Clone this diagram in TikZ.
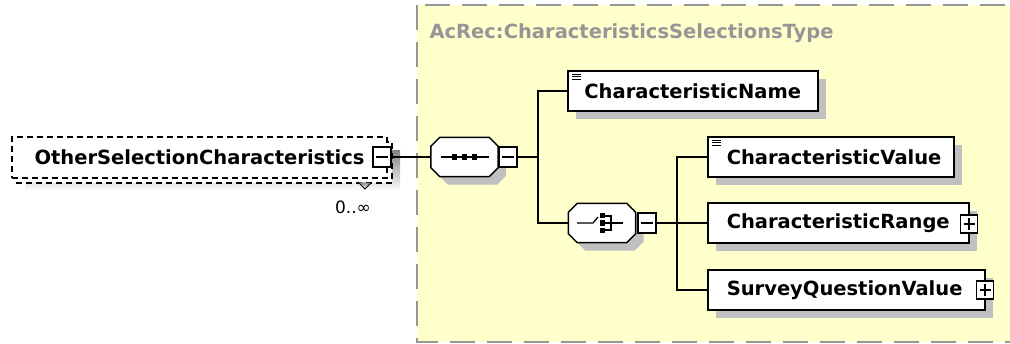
\documentclass[tikz,border=0pt]{standalone}
\usepackage{fontspec}
\setmainfont{DejaVu Sans}
\usetikzlibrary{shadows,calc}

\definecolor{typebg}{RGB}{255,255,204}
\definecolor{typeline}{RGB}{150,150,150}
\definecolor{shade}{RGB}{192,192,192}

% octagonal compositor outline round a node, #3 = offset (for the shadow)
\newcommand{\octpath}[3]{\path[#1] ($(#2.north west)+(9+#3,#3)$) -- ($(#2.north east)+(-9+#3,#3)$)
    -- ($(#2.north east)+(#3,9+#3)$) -- ($(#2.south east)+(#3,-9+#3)$) -- ($(#2.south east)+(-9+#3,#3)$)
    -- ($(#2.south west)+(9+#3,#3)$) -- ($(#2.south west)+(#3,-9+#3)$) -- ($(#2.north west)+(#3,9+#3)$) -- cycle;}

\begin{document}
\begin{tikzpicture}[x=1pt, y=-1pt,
    elem/.style={draw, fill=white, line width=1.5pt, minimum height=40pt, inner xsep=15pt, anchor=west,
        font=\fontsize{19.5}{22}\selectfont\bfseries,
        general shadow={fill=shade, shadow xshift=8pt, shadow yshift=-8pt}},
    multi/.style={draw, fill=white, line width=1.2pt, dash pattern=on 6pt off 4pt, minimum width=375pt, minimum height=41pt,
        font=\fontsize{19.5}{22}\selectfont\bfseries},
    comp/.style={minimum width=67pt, minimum height=39pt, inner sep=0pt},
    minus/.style={draw, fill=white, line width=1.2pt, minimum width=18pt, minimum height=20pt, inner sep=0pt,
        path picture={\draw[line width=1.2pt] ([xshift=3pt]path picture bounding box.west) -- ([xshift=-3pt]path picture bounding box.east);}},
    plus/.style={draw, fill=white, line width=1.2pt, minimum width=17pt, minimum height=18pt, inner sep=0pt,
        path picture={\draw[line width=1.2pt] ([xshift=3pt]path picture bounding box.west) -- ([xshift=-3pt]path picture bounding box.east)
            ([yshift=-3pt]path picture bounding box.north) -- ([yshift=3pt]path picture bounding box.south);}},
    conn/.style={line width=1.3pt},
    card/.style={font=\fontsize{17}{19}\selectfont}
]
\useasboundingbox (0,0) rectangle (1010,343);

% complex type area
\draw[typeline, fill=typebg, line width=2pt, dash pattern=on 25pt off 12pt] (417,5) rectangle (1040,342);
\node[anchor=west, text=typeline, font=\fontsize{19.5}{22}\selectfont\bfseries] (tname) at (426,33) {AcRec:CharacteristicsSelectionsType};

% repeated element
\fill[shade] (25,150) rectangle (400,191);
\draw[fill=white, line width=1.2pt, dash pattern=on 6pt off 4pt] (17,142) rectangle (392,183);
\node[multi] (osc) at (199.5,157.5) {OtherSelectionCharacteristics};
\node[minus] (oscm) at (382,157) {};
\node[card] (card) at (353,207) {0..∞};
\draw[shade, line width=1pt] (358,182) -- (365,189) -- (371,183);

% compositors
\node[comp] (seq) at (464.5,157) {};
\octpath{fill=shade}{seq}{8}
\octpath{draw, fill=white, line width=1.5pt}{seq}{0}
\draw[line width=1.3pt] ([xshift=-24pt]seq.center) -- ([xshift=24pt]seq.center);
\foreach \dx in {-10,0,10}
    \fill ($(seq.center)+(\dx,0)$) +(-2.8,-2.8) rectangle +(2.8,2.8);
\node[minus] (seqm) at (508,157) {};

\node[comp] (choice) at (602,223) {};
\octpath{fill=shade}{choice}{8}
\octpath{draw, fill=white, line width=1.5pt}{choice}{0}
\draw[line width=1.3pt] ($(choice.center)+(-25,0)$) -- ($(choice.center)+(-9,0)$) -- ($(choice.center)+(-4,-6)$);
\foreach \dy in {-7.5,0,7.5}
    \fill ($(choice.center)+(0.5,\dy)$) +(-2.8,-2.8) rectangle +(2.8,2.8);
\draw[line width=1.3pt] ($(choice.center)+(3,-7)$) -- ($(choice.center)+(9,-7)$) -- ($(choice.center)+(9,7)$) -- ($(choice.center)+(3,7)$);
\draw[line width=1.3pt] ($(choice.center)+(3,0)$) -- ($(choice.center)+(21,0)$);
\node[minus] (choicem) at (647,223) {};

% child elements
\node[elem, minimum width=250pt] (cname) at (567,91) {CharacteristicName};
\node[elem, inner xsep=19pt, text width=208pt, align=left] (cvalue) at (707,157) {CharacteristicValue};
\node[elem, inner xsep=19pt, text width=223pt, align=left] (crange) at (707,223) {CharacteristicRange};
\node[plus] (crangep) at (969,224) {};
\node[elem, inner xsep=19pt, text width=239pt, align=left] (survey) at (707,290) {SurveyQuestionValue};
\node[plus] (surveyp) at (985,290) {};

% simple content marks
\foreach \k in {0,1,2} {
    \draw[line width=0.9pt] ($(cname.north west)+(5,4+2.6*\k)$) -- ++(9,0);
    \draw[line width=0.9pt] ($(cvalue.north west)+(5,4+2.6*\k)$) -- ++(9,0);
}

% connectors
\coordinate (j1) at (538,157);
\coordinate (j2) at (677,223);
\draw[conn] (oscm.east) -- (seq.west);
\draw[conn] (seqm.east) -- (j1);
\draw[conn] (cname.west) -| (j1) |- (choice.west);
\draw[conn] (choicem.east) -- (j2);
\draw[conn] (cvalue.west) -| (j2) |- (survey.west);
\draw[conn] (j2) -- (crange.west);
\end{tikzpicture}
\end{document}
